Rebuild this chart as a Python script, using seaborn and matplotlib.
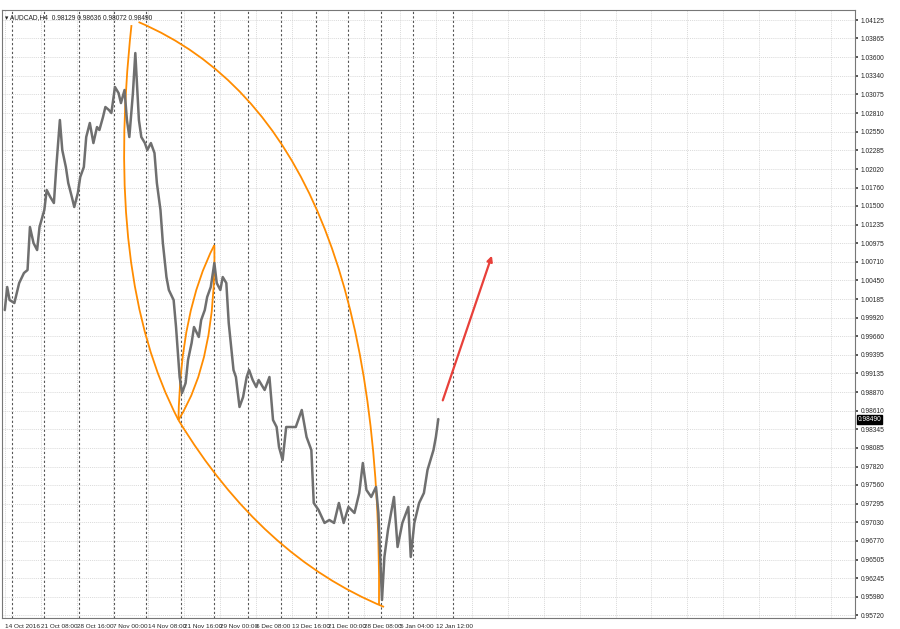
import matplotlib
matplotlib.use("agg")
import matplotlib.pyplot as plt
import matplotlib.patches as mpatches
from matplotlib.path import Path
import pandas as pd
import seaborn as sns

# price path (bar index, price)
bars = [0, 2, 4, 8, 12, 16, 19, 21, 24, 27, 29, 33, 35, 38, 41, 43, 46, 48, 51, 53,
        56, 58, 61, 63, 66, 68, 71, 74, 77, 79, 82, 84, 87, 89, 92, 95, 97, 100, 102, 104,
        107, 109, 112, 114, 117, 119, 122, 125, 127, 130, 132, 135, 137, 141, 143, 146, 148, 151, 153, 156,
        158, 162, 164, 167, 169, 172, 175, 177, 180, 182, 185, 187, 191, 193, 196, 199, 202, 204, 207, 210,
        212, 217, 221, 224, 227, 229, 232, 235, 239, 243, 248, 252, 256, 258, 262, 267, 271, 275, 279, 283,
        287, 292, 296, 299, 302, 306, 310, 312, 315, 317, 320, 325, 328, 332, 337, 339, 342, 346, 350, 353,
        358, 360, 362]
prices = [1.00030, 1.00355, 1.00171, 1.00129, 1.00411, 1.00553, 1.00595, 1.01202, 1.00976, 1.00877,
          1.01202, 1.01442, 1.01725, 1.01626, 1.01541, 1.02049, 1.02713, 1.02289, 1.02049, 1.01823,
          1.01626, 1.01485, 1.01682, 1.01908, 1.02049, 1.02473, 1.02671, 1.02388, 1.02614, 1.02572,
          1.02755, 1.02897, 1.02854, 1.02812, 1.03179, 1.03094, 1.02953, 1.03137, 1.02713, 1.02473,
          1.03094, 1.03659, 1.02713, 1.02473, 1.02388, 1.02289, 1.02388, 1.02247, 1.01823, 1.01442,
          1.00976, 1.00496, 1.00313, 1.00171, 0.99790, 0.99084, 0.98858, 0.98999, 0.99324, 0.99564,
          0.99790, 0.99649, 0.99889, 1.00030, 1.00214, 1.00355, 1.00694, 1.00411, 1.00313, 1.00496,
          1.00411, 0.99847, 0.99183, 0.99084, 0.98661, 0.98802, 0.99084, 0.99183, 0.99042, 0.98943,
          0.99042, 0.98901, 0.99084, 0.98477, 0.98378, 0.98096, 0.97912, 0.98378, 0.98378, 0.98378,
          0.98618, 0.98237, 0.98053, 0.97305, 0.97206, 0.97023, 0.97065, 0.97023, 0.97305, 0.97023,
          0.97249, 0.97164, 0.97446, 0.97870, 0.97489, 0.97390, 0.97531, 0.97164, 0.95935, 0.96543,
          0.96924, 0.97390, 0.96684, 0.97023, 0.97249, 0.96543, 0.97023, 0.97305, 0.97446, 0.97771,
          0.98053, 0.98237, 0.98490]

ytick_vals = [1.04125, 1.03865, 1.03600, 1.03340, 1.03075, 1.02810, 1.02550, 1.02285, 1.02020,
              1.01760, 1.01500, 1.01235, 1.00975, 1.00710, 1.00450, 1.00185, 0.99920, 0.99660,
              0.99395, 0.99135, 0.98870, 0.98610, 0.98345, 0.98085, 0.97820, 0.97560, 0.97295,
              0.97030, 0.96770, 0.96505, 0.96245, 0.95980, 0.95720]
xtick_labels = ["14 Oct 2016", "21 Oct 08:00", "28 Oct 16:00", "7 Nov 00:00", "14 Nov 08:00",
                "21 Nov 16:00", "29 Nov 00:00", "6 Dec 08:00", "13 Dec 16:00", "21 Dec 00:00",
                "28 Dec 08:00", "5 Jan 04:00", "12 Jan 12:00"]
separators = [6, 33, 62, 91, 118, 147, 175, 203, 231, 260, 287, 314, 341, 374]

# orange arcs: (start, control, end) in (bar, price)
arcs = [
    ((105.8, 1.04054), (82.9, 1.00489), (145.0, 0.98477)),
    ((111.7, 1.04097), (316.3, 1.02621), (312.5, 0.95865)),
    ((145.0, 0.98477), (214.2, 0.96550), (316.7, 0.95837)),
    ((145.0, 0.98477), (146.7, 1.00030), (175.0, 1.00948)),
    ((145.0, 0.98477), (176.7, 0.99324), (175.0, 1.00948)),
]
arrow_start = (365, 0.98717)
arrow_end = (407.5, 1.00835)

sns.set_theme(style="white")
plt.rcParams["font.family"] = ["DejaVu Sans"]
narrow = ["Liberation Sans Narrow", "Liberation Sans", "DejaVu Sans"]

fig = plt.figure(figsize=(9, 6.29), dpi=100)
ax = fig.add_axes([0.002, 0.0175, 0.948, 0.9665])

df = pd.DataFrame({"bar": bars, "price": prices})
sns.lineplot(data=df, x="bar", y="price", color="#6f6f6f", linewidth=1.8, ax=ax)

for s in separators:
    ax.axvline(s, color="#555555", linestyle=(0, (2, 2)), linewidth=0.8, zorder=0)

for p0, c, p1 in arcs:
    path = Path([p0, c, p1], [Path.MOVETO, Path.CURVE3, Path.CURVE3])
    ax.add_patch(mpatches.PathPatch(path, facecolor="none", edgecolor="#ff8c00", linewidth=1.3))

ax.annotate("", xy=arrow_end, xytext=arrow_start,
            arrowprops=dict(arrowstyle="-|>", color="#e8403a", lw=1.6, mutation_scale=8))

xticks = list(range(0, 720, 30))
ax.set_xlim(-2.5, 710)
ax.set_ylim(0.95681, 1.04266)
ax.set_xticks(xticks)
ax.set_xticklabels(xtick_labels + [""] * (len(xticks) - len(xtick_labels)),
                   fontsize=4.6, ha="left", family=narrow)
ax.set_yticks(ytick_vals)
ax.set_yticklabels([f"{v:.5f}" for v in ytick_vals], fontsize=4.8, family=narrow)
ax.yaxis.tick_right()
ax.tick_params(axis="both", length=2, pad=2, color="#444444")
ax.set_xlabel("")
ax.set_ylabel("")
ax.grid(True, color="#cccccc", linestyle=(0, (1.5, 1.5)), linewidth=0.5)
ax.set_axisbelow(True)
for sp in ax.spines.values():
    sp.set_color("#777777")
    sp.set_linewidth(0.8)

ax.text(0.004, 0.993, "\u25be AUDCAD,H4  0.98129 0.98636 0.98072 0.98490", transform=ax.transAxes,
        fontsize=4.8, va="top", ha="left", color="#222222", family=narrow)
ax.text(1.003, prices[-1], "0.98490", transform=ax.get_yaxis_transform(), fontsize=4.8,
        va="center", ha="left", color="white", family=narrow,
        bbox=dict(boxstyle="square,pad=0.15", facecolor="black", edgecolor="black"))

fig.savefig("out.png", dpi=100)
